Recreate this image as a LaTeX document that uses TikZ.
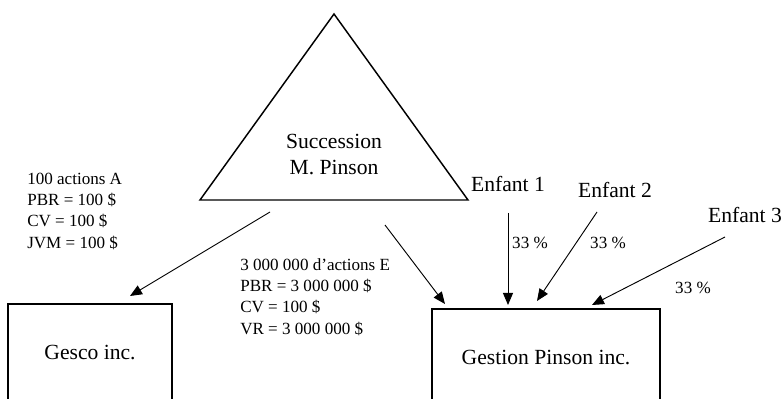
\documentclass[tikz,border=0pt]{standalone}
\usepackage{fontspec}
\setmainfont{Liberation Serif}
\usetikzlibrary{arrows.meta}
\begin{document}
\begin{tikzpicture}[x=0.75pt, y=-0.75pt, >={Triangle[length=9pt, width=7.5pt]},
    box/.style={draw, line width=1.1pt, minimum height=73.5pt, font=\fontsize{16.2}{19.5}\selectfont},
    big/.style={font=\fontsize{16.2}{19.5}\selectfont, align=center},
    small/.style={font=\fontsize{12.8}{16}\selectfont, align=left},
    link/.style={->, line width=0.7pt}]

        \useasboundingbox (0,0) rectangle (783,399);
        \clip (0,0) rectangle (783,399);

        % Succession (triangle)
        \draw[line width=1.1pt] (334,14) -- (468,200) -- (200,200) -- cycle;
        \node[big] (succ) at (334,155) {Succession\\M. Pinson};

        % Companies
        \node[box, minimum width=123pt] (gesco) at (90,353) {Gesco inc.};
        \node[box, minimum width=171pt] (gestion) at (546,358) {Gestion Pinson inc.};

        % Children
        \node[big] (enf1) at (508,184) {Enfant 1};
        \node[big] (enf2) at (615,190) {Enfant 2};
        \node[big] (enf3) at (745,215) {Enfant 3};

        % Shares
        \node[small, anchor=west, inner sep=0pt] (sharesA) at (27,211) {100 actions A\\PBR = 100 \$\\CV = 100 \$\\JVM = 100 \$};
        \node[small, anchor=west, inner sep=0pt] (sharesE) at (240,297) {3 000 000 d’actions E\\PBR = 3 000 000 \$\\CV = 100 \$\\VR = 3 000 000 \$};

        % Percentages
        \node[small] (pct1) at (530,243) {33 \%};
        \node[small] (pct2) at (608,243) {33 \%};
        \node[small] (pct3) at (693,288) {33 \%};

        % Arrow ends
        \coordinate (succA) at (270,212);
        \coordinate (succE) at (385,225);
        \coordinate (from1) at (508,213);
        \coordinate (from2) at (597,212);
        \coordinate (from3) at (725,237);
        \coordinate (toA) at (130,296);
        \coordinate (toE) at (445,304);
        \coordinate (to1) at (508,305);
        \coordinate (to2) at (537,301);
        \coordinate (to3) at (592,305);

        % Arrows
        \draw[link] (succA) -- (toA);
        \draw[link] (succE) -- (toE);
        \draw[link] (from1) -- (to1);
        \draw[link] (from2) -- (to2);
        \draw[link] (from3) -- (to3);

    \end{tikzpicture}
\end{document}
